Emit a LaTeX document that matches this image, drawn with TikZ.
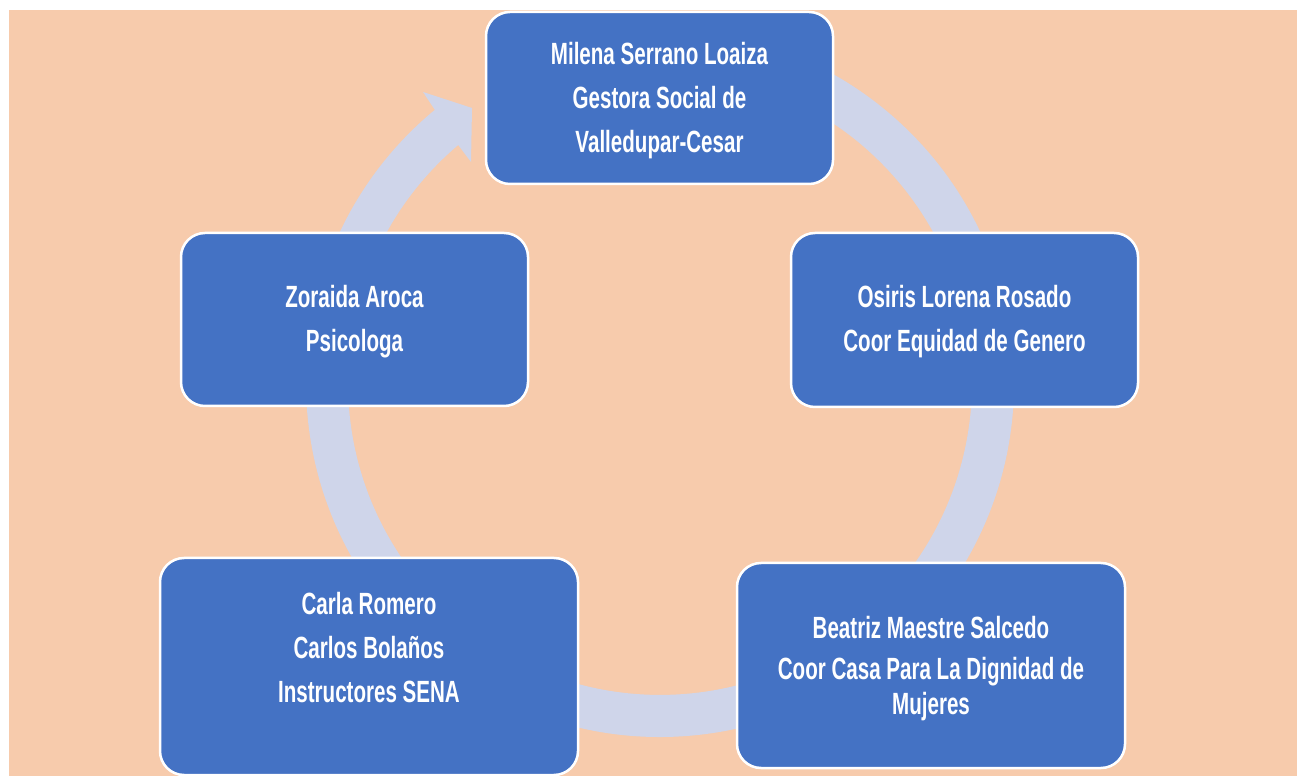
\documentclass[tikz,border=0pt]{standalone}
\usepackage{fontspec}
\newfontfamily\agencyfont{Liberation Sans}[FakeStretch=0.67]
\definecolor{peach}{HTML}{F7CBAC}
\definecolor{boxblue}{HTML}{4472C4}
\definecolor{ringblue}{HTML}{CFD5EA}
\tikzset{
  cyclebox/.style={draw=white, line width=2.5pt, fill=boxblue, rounded corners=24pt, inner sep=0pt},
  boxtext/.style={text=white, align=center, inner sep=0pt,
    font={\agencyfont\bfseries\fontsize{30.7}{44}\selectfont}},
  ringfill/.style={fill=ringblue}
}
\begin{document}
\begin{tikzpicture}[x=1pt,y=1pt]
\useasboundingbox (0,0) rectangle (1297,776);
\fill[peach] (9,0) rectangle (1297,766);
\coordinate (C) at (660,393);
% ring with arrow head
\fill[ringfill] ([shift={(95:354)}]C) arc[start angle=95,end angle=-230.5,radius=354]
  -- (423,684) -- (472,668) -- (471,614) -- (458.2,631)
  arc[start angle=-229.7,end angle=95,radius=312] -- cycle;
% boxes
\node[cyclebox, minimum width=347pt, minimum height=172pt] (top) at (659.5,678) {};
\node[cyclebox, minimum width=347pt, minimum height=174pt] (right) at (964.5,456) {};
\node[cyclebox, minimum width=347pt, minimum height=173pt] (left) at (354.5,456.5) {};
\node[cyclebox, minimum width=388pt, minimum height=205pt] (bright) at (931,110.5) {};
\node[cyclebox, minimum width=418pt, minimum height=217pt] (bleft) at (369,109.5) {};
% texts
\node[boxtext] (ttop) at (659.5,675) {Milena Serrano Loaiza\\Gestora Social de\\Valledupar-Cesar};
\node[boxtext] (tright) at (964.5,454) {Osiris Lorena Rosado\\Coor Equidad de Genero};
\node[boxtext] (tleft) at (354.5,454) {Zoraida Aroca\\Psicologa};
\node[boxtext] (tbright) at (931,107.5) {Beatriz Maestre Salcedo\\[-3pt]Coor Casa Para La Dignidad de\\[-9pt]Mujeres};
\node[boxtext] (tbleft) at (369,128) {Carla Romero\\Carlos Bolaños\\Instructores SENA};
\end{tikzpicture}
\end{document}
